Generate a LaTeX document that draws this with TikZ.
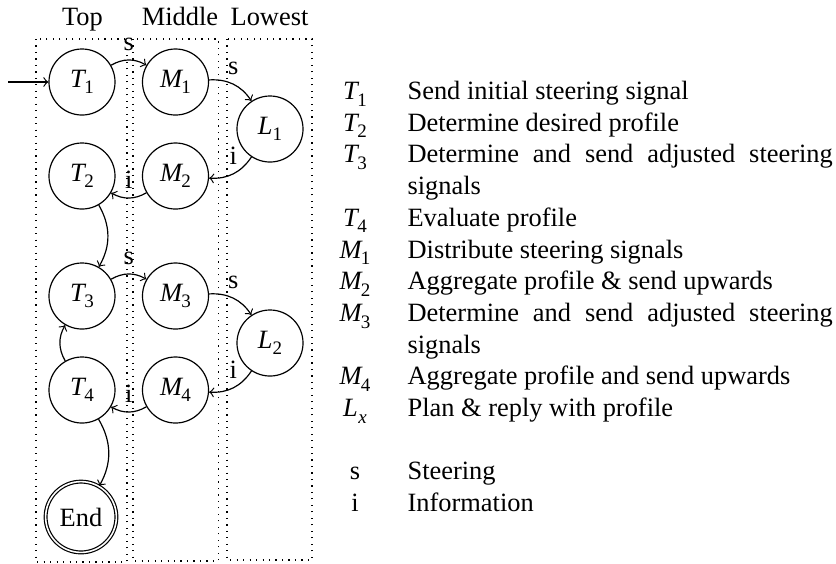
\documentclass[tikz,border=0pt]{standalone}
\usepackage{fontspec}
\setmainfont{Liberation Serif}
% italic state symbol with an upright subscript; optional kern before the subscript
\newcommand{\stsym}[3][-0.07em]{\textit{#2}\kern#1\raisebox{-0.25em}{\fontsize{7.2}{7.2}\selectfont #3}}

\begin{document}
\begin{tikzpicture}[x=0.3786pt,y=-0.3786pt,line width=0.45pt,
  every node/.style={font=\fontsize{10}{12}\selectfont},
  state/.style={circle,draw,minimum size=25pt,inner sep=0pt},
  final/.style={circle,draw,double,double distance=0.6pt,minimum size=26.8pt,inner sep=0pt},
  lane/.style={draw,dotted},
  flow/.style={->,bend left=30},
  lbl/.style={above},
  head/.style={anchor=base},
  sym/.style={anchor=base},
  desc/.style={anchor=base west,inner sep=0pt}]
\useasboundingbox (0,0) rectangle (836,563);

% swim lanes
\draw[lane] (36,39) rectangle (127,562);
\draw[lane] (133,39) rectangle (218.5,561);
\draw[lane] (227,39) rectangle (312,560);

\node[head] (hTop) at (82.5,25) {Top};
\node[head] (hMid) at (180,25) {Middle};
\node[head] (hLow) at (269.5,25) {Lowest};

% states
\node[state] (T1) at (82,82) {\stsym{T}{1}};
\node[state] (M1) at (175.5,82) {\stsym{M}{1}};
\node[state] (L1) at (270,129) {\stsym[0.01em]{L}{1}};
\node[state] (T2) at (82,176) {\stsym{T}{2}};
\node[state] (M2) at (175.5,176) {\stsym{M}{2}};
\node[state] (T3) at (82,296) {\stsym{T}{3}};
\node[state] (M3) at (175.5,296) {\stsym{M}{3}};
\node[state] (L2) at (270,343) {\stsym[0.01em]{L}{2}};
\node[state] (T4) at (82,390) {\stsym{T}{4}};
\node[state] (M4) at (175.5,390) {\stsym{M}{4}};
\node[final] (End) at (81,517) {End};

% transitions
\coordinate (start) at (8,82);
\draw[->] (start) -- (T1);
\draw[flow] (T1) to node[lbl] {s} (M1);
\draw[flow] (M1) to node[lbl] {s} (L1);
\draw[flow] (L1) to node[lbl] {i} (M2);
\draw[flow] (M2) to node[lbl] {i} (T2);
\draw[flow] (T2) to (T3);
\draw[flow] (T3) to node[lbl] {s} (M3);
\draw[flow] (M3) to node[lbl] {s} (L2);
\draw[flow] (L2) to node[lbl] {i} (M4);
\draw[flow] (M4) to node[lbl] {i} (T4);
\draw[flow] (T4) to (T3);
\draw[flow] (T4) to (End);

% legend
\node[sym] (kT1) at (355,99.5) {\stsym{T}{1}};
\node[desc] (dT1) at (407,99.5) {Send initial steering signal};
\node[sym] (kT2) at (355,131.2) {\stsym{T}{2}};
\node[desc] (dT2) at (407,131.2) {Determine desired profile};
\node[sym] (kT3) at (355,162.9) {\stsym{T}{3}};
\node[desc] (dT3) at (407,162.9) {\makebox[161pt][s]{Determine and send adjusted steering}};
\node[desc] (dT3b) at (407,194.6) {signals};
\node[sym] (kT4) at (355,226.3) {\stsym{T}{4}};
\node[desc] (dT4) at (407,226.3) {Evaluate profile};
\node[sym] (kM1) at (355,258) {\stsym{M}{1}};
\node[desc] (dM1) at (407,258) {Distribute steering signals};
\node[sym] (kM2) at (355,289.7) {\stsym{M}{2}};
\node[desc] (dM2) at (407,289.7) {Aggregate profile \& send upwards};
\node[sym] (kM3) at (355,321.4) {\stsym{M}{3}};
\node[desc] (dM3) at (407,321.4) {\makebox[161pt][s]{Determine and send adjusted steering}};
\node[desc] (dM3b) at (407,353.1) {signals};
\node[sym] (kM4) at (355,384.8) {\stsym{M}{4}};
\node[desc] (dM4) at (407,384.8) {Aggregate profile and send upwards};
\node[sym] (kLx) at (355,416.5) {\stsym[0.02em]{L}{\textit{x}}};
\node[desc] (dLx) at (407,416.5) {Plan \& reply with profile};
\node[sym] (ks) at (355,479.9) {s};
\node[desc] (ds) at (407,479.9) {Steering};
\node[sym] (ki) at (355,511.6) {i};
\node[desc] (di) at (407,511.6) {Information};
\end{tikzpicture}
\end{document}
